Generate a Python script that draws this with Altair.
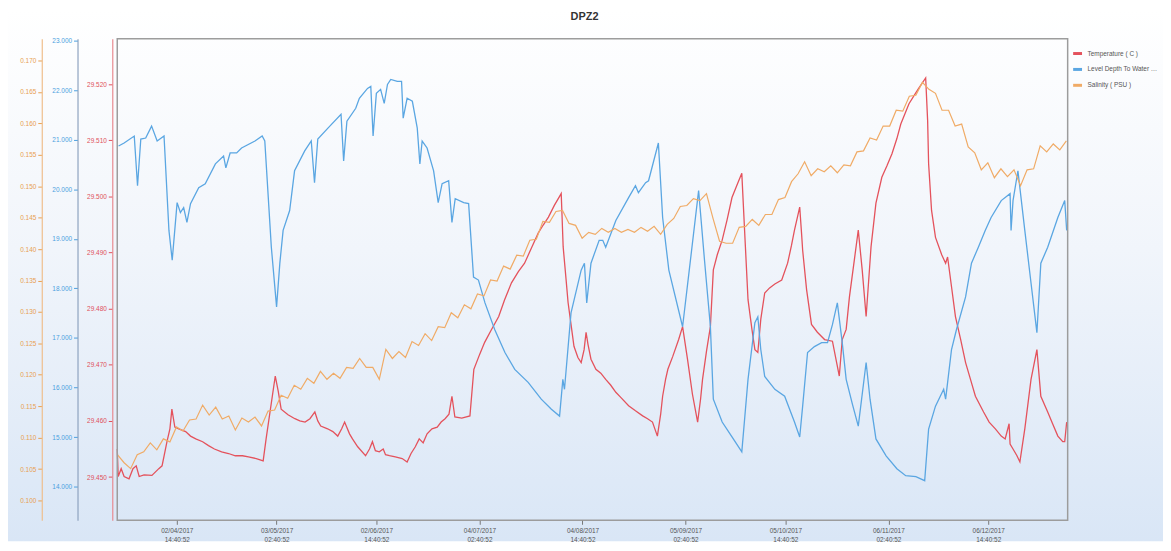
import altair as alt
import pandas as pd

BASE = pd.Timestamp("2017-03-15 00:00:00")

series_names = ["Temperature ( C )", "Level Depth To Water ( m )", "Salinity ( PSU )"]
series_colors = ["#e4525c", "#5aa6e2", "#f0ab66"]

# Temperature (red) - days after 2017-03-15, value
temp_days = [0.4, 0.7, 1.6, 2.5, 4.0, 5.2, 6.2, 7.1, 8.6, 11.0,
             13.1, 14.1, 15.6, 16.5, 17.1, 18.0, 19.2, 21.3, 22.8, 24.4,
             26.5, 28.3, 30.1, 32.3, 34.4, 36.5, 38.7, 40.5, 42.9, 45.0,
             45.9, 47.1, 48.7, 49.6, 50.5, 52.6, 54.7, 56.2, 57.8, 59.3,
             60.8, 61.7, 62.6, 64.7, 66.3, 67.8, 69.0, 69.9, 71.4, 72.3,
             73.9, 76.3, 77.5, 78.4, 79.3, 80.5, 81.7, 82.4, 83.6, 85.4,
             87.5, 89.0, 90.2, 91.5, 92.7, 93.9, 95.1, 96.6, 98.2, 99.4,
             100.6, 101.8, 102.7, 103.6, 105.7, 108.2, 109.4, 111.2, 112.7, 114.8,
             117.0, 118.8, 120.9, 123.0, 124.9, 127.0, 129.1, 130.6, 132.2, 134.0,
             136.1, 136.4, 136.7, 137.6, 138.2, 139.1, 140.0, 141.2, 142.2, 143.1,
             143.7, 144.3, 145.2, 146.7, 148.2, 149.7, 151.2, 152.8, 154.3, 156.7,
             158.8, 161.0, 162.5, 164.0, 165.5, 166.5, 167.1, 168.0, 168.7, 170.2,
             172.0, 173.2, 174.7, 176.2, 177.8, 178.7, 179.3, 180.5, 181.7, 182.6,
             183.8, 185.3, 186.8, 188.3, 189.8, 191.3, 192.3, 193.2, 194.4, 195.3,
             196.2, 197.1, 198.3, 199.8, 201.4, 203.5, 205.3, 206.5, 207.4, 209.0,
             209.6, 209.9, 211.1, 212.6, 214.4, 216.6, 219.0, 221.1, 222.0, 223.2,
             224.2, 225.7, 226.9, 228.1, 229.3, 230.2, 230.8, 232.3, 234.1, 235.7,
             237.2, 238.7, 239.9, 242.4, 243.9, 245.4, 247.5, 248.1, 248.4, 249.3,
             250.5, 252.4, 253.6, 254.2, 255.4, 256.6, 258.2, 259.7, 261.2, 262.7,
             265.2, 266.9, 268.8, 270.6, 271.8, 273.0, 273.3, 274.2, 275.4, 276.3,
             277.8, 279.7, 281.5, 282.7, 284.8, 286.3, 287.9, 289.4, 290.0, 290.6]
temp_vals = [29.4550, 29.4501, 29.4515, 29.4501, 29.4497, 29.4515, 29.4520, 29.4501, 29.4504, 29.4503,
             29.4515, 29.4520, 29.4563, 29.4586, 29.4621, 29.4589, 29.4586, 29.4581, 29.4573, 29.4568,
             29.4563, 29.4556, 29.4550, 29.4545, 29.4542, 29.4538, 29.4538, 29.4536, 29.4533, 29.4529,
             29.4568, 29.4616, 29.4680, 29.4653, 29.4621, 29.4611, 29.4604, 29.4600, 29.4598, 29.4604,
             29.4616, 29.4600, 29.4591, 29.4586, 29.4581, 29.4573, 29.4586, 29.4598, 29.4577, 29.4568,
             29.4554, 29.4538, 29.4550, 29.4563, 29.4547, 29.4545, 29.4550, 29.4540, 29.4538, 29.4536,
             29.4533, 29.4527, 29.4542, 29.4554, 29.4568, 29.4561, 29.4577, 29.4586, 29.4589, 29.4598,
             29.4604, 29.4612, 29.4644, 29.4607, 29.4605, 29.4609, 29.4692, 29.4719, 29.4740, 29.4763,
             29.4786, 29.4816, 29.4846, 29.4866, 29.4881, 29.4908, 29.4935, 29.4949, 29.4963, 29.4984,
             29.5005, 29.4958, 29.4910, 29.4851, 29.4811, 29.4772, 29.4733, 29.4713, 29.4704, 29.4727,
             29.4758, 29.4736, 29.4710, 29.4692, 29.4685, 29.4674, 29.4664, 29.4651, 29.4642, 29.4627,
             29.4618, 29.4609, 29.4604, 29.4598, 29.4573, 29.4612, 29.4644, 29.4674, 29.4692, 29.4715,
             29.4745, 29.4768, 29.4710, 29.4648, 29.4598, 29.4639, 29.4674, 29.4724, 29.4768, 29.4869,
             29.4896, 29.4922, 29.4958, 29.4998, 29.5020, 29.5041, 29.4922, 29.4816, 29.4763, 29.4727,
             29.4722, 29.4781, 29.4828, 29.4837, 29.4844, 29.4851, 29.4881, 29.4913, 29.4940, 29.4981,
             29.4931, 29.4904, 29.4834, 29.4772, 29.4758, 29.4745, 29.4742, 29.4680, 29.4745, 29.4763,
             29.4821, 29.4887, 29.4940, 29.4869, 29.4786, 29.4860, 29.4910, 29.4988, 29.5034, 29.5055,
             29.5076, 29.5103, 29.5129, 29.5165, 29.5179, 29.5193, 29.5211, 29.5135, 29.5058, 29.4975,
             29.4927, 29.4896, 29.4881, 29.4892, 29.4839, 29.4786, 29.4745, 29.4704, 29.4674, 29.4644,
             29.4616, 29.4598, 29.4586, 29.4573, 29.4568, 29.4595, 29.4559, 29.4550, 29.4538, 29.4527,
             29.4586, 29.4674, 29.4727, 29.4644, 29.4616, 29.4595, 29.4573, 29.4563, 29.4563, 29.4598]

# Level depth to water (blue)
level_days = [0.8, 2.5, 5.6, 6.6, 7.6, 9.1, 10.9, 12.6, 14.7, 16.2,
              17.2, 18.7, 19.7, 20.7, 21.7, 22.8, 25.3, 27.3, 30.4, 32.9,
              33.6, 34.9, 36.9, 38.4, 42.5, 44.7, 45.5, 47.5, 49.1, 50.1,
              51.1, 53.1, 54.6, 57.7, 59.7, 60.7, 61.7, 64.8, 68.8, 69.6,
              70.6, 73.3, 74.4, 76.9, 77.9, 78.6, 79.6, 80.9, 82.0, 83.0,
              84.0, 86.0, 87.3, 87.8, 89.0, 90.6, 92.1, 92.9, 93.6, 95.1,
              97.1, 98.5, 99.7, 101.7, 102.7, 103.7, 106.3, 107.8, 109.3, 110.8,
              112.8, 115.8, 118.9, 121.9, 126.0, 130.0, 133.1, 135.6, 136.6, 137.1,
              139.1, 142.2, 143.2, 143.9, 145.2, 147.7, 148.8, 149.7, 152.8, 156.7,
              158.8, 159.7, 161.9, 162.8, 165.8, 167.1, 169.0, 173.2, 175.6, 178.1,
              179.9, 181.7, 182.6, 185.3, 188.3, 191.3, 193.2, 195.3, 196.2, 197.1,
              198.3, 201.4, 204.4, 207.4, 209.0, 209.9, 211.4, 213.5, 215.7, 217.5,
              219.0, 220.5, 222.0, 223.2, 225.1, 226.9, 229.3, 230.5, 232.3, 235.4,
              238.7, 241.4, 244.5, 247.2, 248.4, 250.5, 253.0, 253.6, 255.4, 256.9,
              259.7, 261.5, 263.6, 265.7, 267.5, 270.6, 273.3, 273.6, 274.2, 275.7,
              277.8, 279.7, 281.5, 282.7, 284.8, 287.9, 290.0, 290.6]
level_vals = [20.874, 20.934, 21.074, 20.072, 21.014, 21.034, 21.275, 20.974, 21.074, 19.170,
              18.569, 19.731, 19.531, 19.631, 19.331, 19.711, 20.032, 20.112, 20.513, 20.673,
              20.433, 20.733, 20.733, 20.834, 20.974, 21.074, 20.974, 18.830, 17.627, 18.509,
              19.170, 19.571, 20.373, 20.774, 20.974, 20.132, 21.014, 21.234, 21.515, 20.573,
              21.375, 21.635, 21.836, 22.036, 22.076, 21.074, 21.936, 22.016, 21.735, 22.116,
              22.216, 22.176, 22.176, 21.435, 21.836, 21.776, 21.234, 20.513, 20.974, 20.834,
              20.373, 19.731, 20.112, 20.172, 19.331, 19.812, 19.731, 19.711, 18.228, 18.168,
              17.707, 17.166, 16.705, 16.365, 16.104, 15.764, 15.563, 15.423, 16.164, 15.964,
              17.507, 18.369, 18.509, 17.707, 18.509, 18.970, 18.970, 18.830, 19.371, 19.832,
              20.072, 19.932, 20.132, 20.172, 20.934, 19.431, 18.369, 17.226, 18.569, 19.972,
              18.569, 17.226, 15.764, 15.303, 15.002, 14.701, 16.164, 17.307, 17.427, 16.766,
              16.224, 15.964, 15.824, 15.303, 15.002, 15.623, 16.705, 16.826, 16.906, 16.906,
              17.267, 17.707, 16.906, 16.164, 15.663, 15.222, 16.505, 15.764, 14.962, 14.621,
              14.361, 14.220, 14.200, 14.120, 15.162, 15.623, 15.964, 15.764, 16.766, 17.166,
              17.828, 18.509, 18.830, 19.170, 19.431, 19.772, 19.912, 19.170, 19.772, 20.373,
              19.170, 18.108, 17.106, 18.509, 18.830, 19.431, 19.772, 19.170]

# Salinity (orange)
sal_days = [0.5, 2.5, 4.5, 6.5, 8.5, 10.5, 12.5, 14.5, 16.5, 18.5,
            20.5, 22.5, 24.5, 26.5, 28.5, 30.5, 32.5, 34.5, 36.5, 38.5,
            40.5, 42.5, 44.5, 46.5, 48.5, 50.5, 52.5, 54.5, 56.5, 58.5,
            60.5, 62.5, 64.5, 66.5, 68.5, 70.5, 72.5, 74.5, 76.5, 78.5,
            80.5, 82.5, 84.5, 86.5, 88.5, 90.5, 92.5, 94.5, 96.5, 98.5,
            100.5, 102.5, 104.5, 106.5, 108.5, 110.5, 112.5, 114.5, 116.5, 118.5,
            120.5, 122.5, 124.5, 126.5, 128.5, 130.5, 132.5, 134.5, 136.5, 138.5,
            140.5, 142.5, 144.5, 146.5, 148.5, 150.5, 152.5, 154.5, 156.5, 158.5,
            160.5, 162.5, 164.5, 166.5, 168.5, 170.5, 172.5, 174.5, 176.5, 178.5,
            180.5, 182.5, 184.5, 186.5, 188.5, 190.5, 192.5, 194.5, 196.5, 198.5,
            200.5, 202.5, 204.5, 206.5, 208.5, 210.5, 212.5, 214.5, 216.5, 218.5,
            220.5, 222.5, 224.5, 226.5, 228.5, 230.5, 232.5, 234.5, 236.5, 238.5,
            240.5, 242.5, 244.5, 246.5, 248.5, 250.5, 252.5, 254.5, 256.5, 258.5,
            260.5, 262.5, 264.5, 266.5, 268.5, 270.5, 272.5, 274.5, 276.5, 278.5,
            280.5, 282.5, 284.5, 286.5, 288.5, 290.5]
sal_vals = [0.10727, 0.10600, 0.10506, 0.10727, 0.10774, 0.10916, 0.10806, 0.10980, 0.10932, 0.11169,
            0.11106, 0.11280, 0.11296, 0.11517, 0.11359, 0.11485, 0.11296, 0.11343, 0.11122, 0.11311,
            0.11248, 0.11327, 0.11185, 0.11422, 0.11438, 0.11675, 0.11627, 0.11833, 0.11770, 0.11943,
            0.11864, 0.12054, 0.11928, 0.12022, 0.11943, 0.12117, 0.12101, 0.12259, 0.12117, 0.12117,
            0.11928, 0.12402, 0.12259, 0.12370, 0.12275, 0.12528, 0.12465, 0.12654, 0.12544, 0.12765,
            0.12749, 0.12986, 0.12907, 0.13113, 0.13049, 0.13286, 0.13255, 0.13508, 0.13492, 0.13729,
            0.13681, 0.13903, 0.13887, 0.14140, 0.14155, 0.14440, 0.14424, 0.14598, 0.14614, 0.14408,
            0.14377, 0.14171, 0.14266, 0.14234, 0.14329, 0.14266, 0.14329, 0.14266, 0.14313, 0.14266,
            0.14345, 0.14282, 0.14361, 0.14234, 0.14392, 0.14487, 0.14677, 0.14693, 0.14803, 0.14772,
            0.14882, 0.14487, 0.14124, 0.14092, 0.14092, 0.14345, 0.14361, 0.14471, 0.14377, 0.14550,
            0.14550, 0.14787, 0.14819, 0.15072, 0.15198, 0.15388, 0.15167, 0.15277, 0.15230, 0.15325,
            0.15214, 0.15340, 0.15325, 0.15546, 0.15562, 0.15767, 0.15735, 0.15957, 0.15957, 0.16209,
            0.16194, 0.16431, 0.16446, 0.16652, 0.16541, 0.16478, 0.16209, 0.16209, 0.15957, 0.15988,
            0.15625, 0.15530, 0.15261, 0.15372, 0.15135, 0.15277, 0.15151, 0.15261, 0.15009, 0.15261,
            0.15277, 0.15641, 0.15546, 0.15672, 0.15577, 0.15720]

temp_ticks = [29.45, 29.46, 29.47, 29.48, 29.49, 29.50, 29.51, 29.52]
level_ticks = [14, 15, 16, 17, 18, 19, 20, 21, 22, 23]
sal_ticks = [0.100, 0.105, 0.110, 0.115, 0.120, 0.125, 0.130, 0.135,
             0.140, 0.145, 0.150, 0.155, 0.160, 0.165, 0.170]
x_tick_labels = ["2017-04-02 14:40:52", "2017-05-03 02:40:52", "2017-06-02 14:40:52",
                 "2017-07-04 02:40:52", "2017-08-04 14:40:52", "2017-09-05 02:40:52",
                 "2017-10-05 14:40:52", "2017-11-06 02:40:52", "2017-12-06 14:40:52"]
x_range = ["2017-03-15 09:36:00", "2017-12-30 21:36:00"]

W, H = 957, 485
FONT = "Liberation Sans"


def iso(days):
    return [(BASE + pd.Timedelta(days=d)).strftime("%Y-%m-%dT%H:%M:%S") for d in days]


def dt(s):
    t = pd.Timestamp(s)
    return alt.DateTime(year=t.year, month=t.month, date=t.day,
                        hours=t.hour, minutes=t.minute, seconds=t.second)


df_t = pd.DataFrame({"t": iso(temp_days), "v": temp_vals, "s": series_names[0]})
df_l = pd.DataFrame({"t": iso(level_days), "v": level_vals, "s": series_names[1]})
df_s = pd.DataFrame({"t": iso(sal_days), "v": sal_vals, "s": series_names[2]})

xscale = alt.Scale(domain=[dt(x_range[0]), dt(x_range[1])])
color = alt.Color("s:N", scale=alt.Scale(domain=series_names, range=series_colors),
                  legend=alt.Legend(orient="none", legendX=W + 4, legendY=9, title=None,
                                    symbolType="stroke", symbolStrokeWidth=3, symbolSize=80,
                                    labelFontSize=6.5, labelFont=FONT, labelColor="#555",
                                    rowPadding=4, labelLimit=72, zindex=1))


def yaxis(ticks, offset, col, dom):
    return alt.Axis(orient="left", offset=offset, values=ticks, format=".3f", title=None,
                    labelFontSize=6.5, labelFont=FONT, labelColor=col, tickColor=col,
                    domainColor=dom, domainWidth=1.2, tickSize=4, grid=False, zindex=1,
                    labelPadding=2)


xaxis = alt.Axis(values=[dt(s) for s in x_tick_labels], title=None, grid=False, domain=False,
                 labelExpr="[timeFormat(datum.value, '%d/%m/%Y'), timeFormat(datum.value, '%H:%M:%S')]",
                 labelFontSize=6.5, labelFont=FONT, labelColor="#555", tickColor="#777",
                 tickSize=4, labelPadding=3, zindex=1, labelLineHeight=9)

bg = alt.Chart(pd.DataFrame({"a": [0]})).mark_rect(
    fill=alt.Gradient(gradient="linear",
                      stops=[alt.GradientStop(color="#ffffff", offset=0),
                             alt.GradientStop(color="#f1f5fb", offset=0.45),
                             alt.GradientStop(color="#d9e6f6", offset=1)],
                      x1=0, x2=0, y1=0, y2=1)
).encode(x=alt.value(-110), x2=alt.value(W + 96), y=alt.value(-29), y2=alt.value(H + 21))

red = alt.Chart(df_t).mark_line(strokeWidth=1.3).encode(
    x=alt.X("t:T", scale=xscale, axis=xaxis),
    y=alt.Y("v:Q", scale=alt.Scale(domain=[29.4423, 29.5281], nice=False, zero=False),
            axis=yaxis(temp_ticks, 5, "#e0505a", "#e88a90")),
    color=color,
)
blue = alt.Chart(df_l).mark_line(strokeWidth=1.3).encode(
    x=alt.X("t:T", scale=xscale, axis=xaxis),
    y=alt.Y("v:Q", scale=alt.Scale(domain=[13.32, 23.04], nice=False, zero=False),
            axis=yaxis(level_ticks, 40, "#4a9fe0", "#8ea3bf")),
    color=color,
)
orange = alt.Chart(df_s).mark_line(strokeWidth=1.2).encode(
    x=alt.X("t:T", scale=xscale, axis=xaxis),
    y=alt.Y("v:Q", scale=alt.Scale(domain=[0.09684, 0.17348], nice=False, zero=False),
            axis=yaxis(sal_ticks, 76, "#e8a050", "#efbe8c")),
    color=color,
)

frame = alt.Chart(pd.DataFrame({"a": [0]})).mark_rect(
    fillOpacity=0, stroke="#9c9c9c", strokeWidth=1.5
).encode(x=alt.value(0), x2=alt.value(W), y=alt.value(0), y2=alt.value(H))

chart = alt.layer(bg, red, blue, orange, frame).resolve_scale(
    y="independent"
).properties(
    width=W, height=H,
    autosize=alt.AutoSizeParams(type="none"),
    padding={"left": 110, "top": 29, "right": 96, "bottom": 21},
    title=alt.TitleParams("DPZ2", fontSize=11, fontWeight="bold", font=FONT,
                          color="#333", anchor="middle", offset=-12, dx=-8),
).configure_view(strokeWidth=0)

chart.save("out.html", embed_options={"renderer": "svg", "actions": False})
